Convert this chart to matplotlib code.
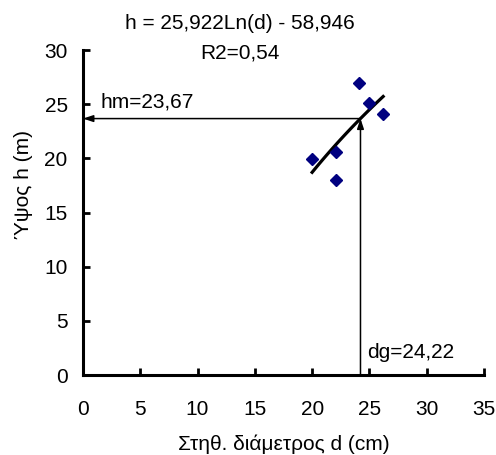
import numpy as np
import matplotlib.pyplot as plt

plt.rcParams["font.family"] = ["Liberation Sans", "DejaVu Sans"]

# measured trees
diameters = [24.1, 25.0, 26.2, 22.1, 20.0, 22.1]
heights = [27.0, 25.1, 24.1, 20.6, 19.9, 18.0]

# log trend h = a*ln(d) + b
coef_a = 25.922
coef_b = -58.946
r2_text = "R2=0,54"

dg = 24.22
hm = 23.67

x_ticks = [0, 5, 10, 15, 20, 25, 30, 35]
y_ticks = [0, 5, 10, 15, 20, 25, 30]

FS = 15

fig = plt.figure(figsize=(4.96, 4.55), dpi=100)
ax = fig.add_axes([0.1673, 0.1758, 0.8085, 0.7143])

trend_x = np.linspace(min(diameters), max(diameters), 50)
trend_y = coef_a * np.log(trend_x) + coef_b
ax.plot(trend_x, trend_y, color="black", linewidth=2.3, zorder=3)

ax.plot(
    diameters,
    heights,
    linestyle="none",
    marker="D",
    markersize=6,
    color="#000080",
    zorder=4
)

arrow = dict(arrowstyle="-|>,head_length=0.6,head_width=0.2",
             color="black", linewidth=1.1, shrinkA=0, shrinkB=0)
ax.annotate("", xy=(0, hm), xytext=(dg, hm), arrowprops=arrow, zorder=2)
ax.annotate("", xy=(dg, hm), xytext=(dg, 0), arrowprops=arrow, zorder=2)

ax.text(1.5, 24.3, f"hm={hm:.2f}".replace(".", ","), fontsize=FS,
        va="bottom", ha="left")
ax.text(24.8, 2.1, f"dg={dg:.2f}".replace(".", ","), fontsize=FS,
        va="center", ha="left")

ax.set_xlim(0, 35)
ax.set_ylim(0, 30)
ax.set_xticks(x_ticks)
ax.set_yticks(y_ticks)

for side in ["top", "right"]:
    ax.spines[side].set_visible(False)
for side in ["left", "bottom"]:
    ax.spines[side].set_linewidth(2.2)

ax.tick_params(axis="both", direction="in", length=5, width=2,
               labelsize=FS)
ax.tick_params(axis="x", pad=18)
ax.tick_params(axis="y", pad=11)

ax.set_xlabel("Στηθ. διάμετρος d (cm)", fontsize=FS)
ax.set_ylabel("Ύψος h (m)", fontsize=FS)
ax.yaxis.set_label_coords(-0.125, 0.585)
ax.xaxis.set_label_coords(0.5, -0.184)

eq_text = f"h = {coef_a:.3f}Ln(d) - {-coef_b:.3f}".replace(".", ",")
fig.text(0.484, 0.949, eq_text, fontsize=FS, ha="center", va="center")
fig.text(0.484, 0.884, r2_text, fontsize=FS, ha="center", va="center")

fig.savefig("out.png", dpi=100)
